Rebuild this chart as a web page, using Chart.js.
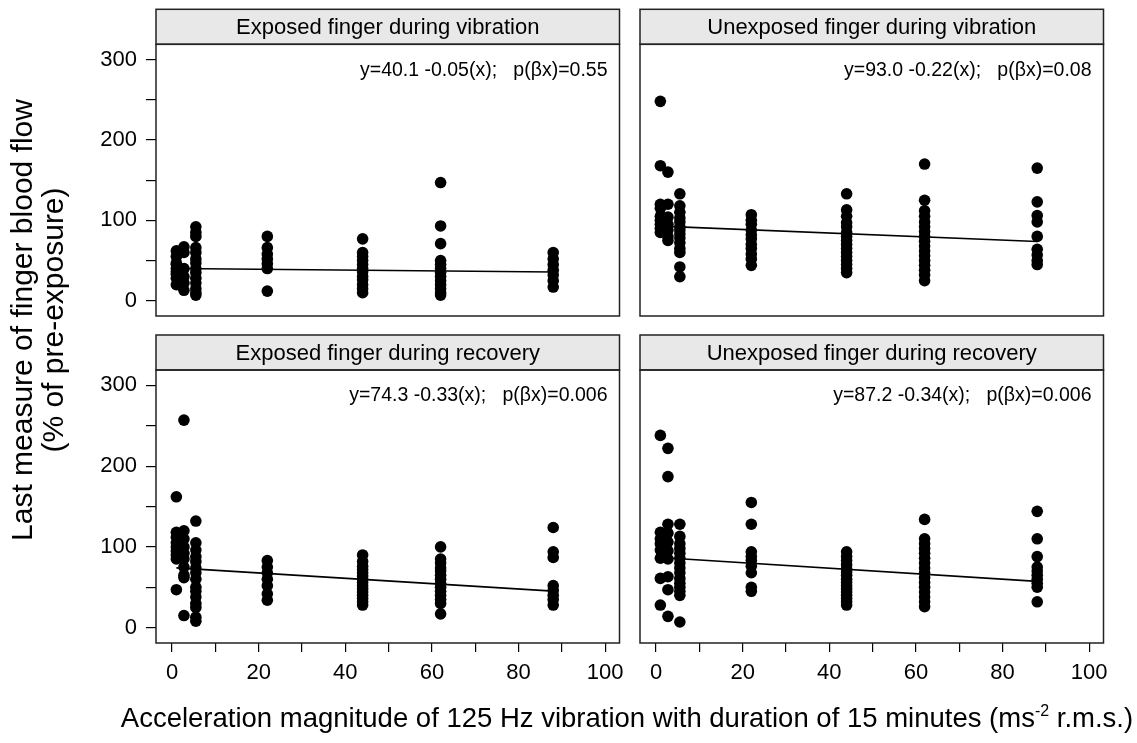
<!DOCTYPE html>
<html>
<head>
<meta charset="utf-8">
<script src="https://cdn.jsdelivr.net/npm/chart.js@4.4.0/dist/chart.umd.min.js"></script>
<style>
  html, body { margin: 0; padding: 0; background: #fff; }
  #wrap { position: relative; width: 1137px; height: 743px; overflow: hidden;
          font-family: 'Liberation Sans', Arial, sans-serif; color: #000; }
  #wrap canvas { position: absolute; left: 0; top: 0; }
  #ytitle { position: absolute; left: -213px; top: 289px; width: 500px; height: 62px;
            font-size: 30px; line-height: 31px; text-align: center; white-space: nowrap;
            transform: rotate(-90deg); }
  #xtitle { position: absolute; left: 27px; top: 700px; width: 1200px; height: 36px;
            font-size: 27.5px; line-height: 36px; text-align: center; white-space: nowrap; }
  #xtitle sup { font-size: 16px; line-height: 0; vertical-align: 11px; }
</style>
</head>
<body>
<div id="wrap">
  <canvas id="p0" width="1137" height="743"></canvas>
  <canvas id="p1" width="1137" height="743"></canvas>
  <canvas id="p2" width="1137" height="743"></canvas>
  <canvas id="p3" width="1137" height="743"></canvas>
  <div id="ytitle">Last measure of finger blood flow<br>(% of pre-exposure)</div>
  <div id="xtitle">Acceleration magnitude of 125 Hz vibration with duration of 15 minutes (ms<sup>-2</sup> r.m.s.)</div>
</div>
<script>
// Vibration magnitudes (m/s² r.m.s.) at which blood flow was measured
const xLevels = [1, 2.75, 5.5, 22, 44, 62, 88];

// Blood flow (% of pre-exposure), one list per magnitude level
const exposedVibration = [
  [62, 55, 47, 40, 33, 28, 20, 45, 36],
  [67, 60, 40, 30, 22, 13],
  [92, 85, 80, 66, 60, 52, 47, 40, 35, 28, 22, 15, 10, 7],
  [80, 66, 58, 52, 46, 40, 12],
  [77, 60, 55, 50, 45, 40, 36, 30, 26, 20, 15, 10],
  [147, 93, 71, 50, 45, 40, 35, 30, 25, 20, 15, 10, 7],
  [60, 52, 45, 38, 32, 25, 17]
];
const unexposedVibration = [
  [248, 168, 120, 115, 105, 100, 95, 90, 85],
  [160, 120, 104, 95, 88, 80, 75],
  [133, 118, 110, 103, 98, 92, 88, 83, 78, 72, 65, 60, 42, 30],
  [107, 100, 95, 88, 82, 77, 70, 65, 58, 52, 44],
  [133, 113, 105, 97, 92, 85, 80, 75, 70, 65, 60, 55, 50, 45, 40, 35],
  [170, 125, 112, 105, 98, 92, 86, 80, 74, 68, 62, 56, 50, 44, 38, 32, 25],
  [165, 123, 106, 98, 80, 64, 57, 50, 45]
];
const exposedRecovery = [
  [162, 118, 112, 105, 100, 95, 90, 85, 47],
  [257, 120, 110, 100, 92, 85, 75, 65, 62, 15],
  [132, 105, 96, 88, 82, 74, 68, 60, 50, 45, 38, 30, 25, 13, 8],
  [83, 75, 68, 60, 52, 42, 34],
  [90, 82, 76, 72, 68, 64, 60, 56, 52, 48, 44, 40, 36, 32, 28],
  [100, 85, 80, 74, 70, 65, 60, 55, 50, 45, 40, 35, 30, 17],
  [124, 94, 87, 52, 46, 40, 35, 28]
];
const unexposedRecovery = [
  [238, 118, 110, 104, 96, 86, 61, 28],
  [222, 187, 128, 117, 106, 95, 85, 63, 47, 14],
  [128, 113, 104, 98, 92, 86, 80, 74, 68, 61, 55, 50, 45, 40, 7],
  [155, 128, 94, 88, 83, 76, 68, 50, 45],
  [94, 88, 83, 78, 73, 69, 65, 60, 56, 52, 48, 44, 40, 36, 32, 28],
  [134, 110, 104, 98, 92, 86, 80, 74, 68, 62, 56, 50, 44, 38, 32, 26],
  [144, 110, 88, 75, 70, 65, 60, 55, 50, 32]
];

// Panel titles and fitted regressions (intercept, slope, p of slope)
const panelTitles = [
  'Exposed finger during vibration', 'Unexposed finger during vibration',
  'Exposed finger during recovery', 'Unexposed finger during recovery'
];
const intercepts = [40.1, 93.0, 74.3, 87.2];
const slopes = [-0.05, -0.22, -0.33, -0.34];
const pValues = ['0.55', '0.08', '0.006', '0.006'];

// Axis ticks
const yTickValues = [0, 50, 100, 150, 200, 250, 300];
const yLabelValues = [0, 100, 200, 300];
const xTickValues = [0, 10, 20, 30, 40, 50, 60, 70, 80, 90, 100];
const xLabelValues = [0, 20, 40, 60, 80, 100];

const panelData = [exposedVibration, unexposedVibration, exposedRecovery, unexposedRecovery];

const FONT = "'Liberation Sans', Arial, sans-serif";
Chart.defaults.font.family = FONT;
Chart.defaults.color = '#000';

// Page layout of the four plotting areas
const W = 1137, H = 743;
const cols = [{ l: 156, r: 619.5 }, { l: 640, r: 1103.5 }];
const rows = [{ t: 44.3, b: 316 }, { t: 370, b: 643 }];
const Y_AXIS_W = 60, X_AXIS_H = 40, HEADER_H = 35;

const panelDecor = {
  id: 'panelDecor',
  afterDraw(chart, args, opts) {
    const { ctx, chartArea: a } = chart;
    ctx.save();
    // strip header
    ctx.fillStyle = '#e8e8e8';
    ctx.fillRect(a.left, a.top - HEADER_H, a.right - a.left, HEADER_H);
    ctx.lineWidth = 1.5;
    ctx.strokeStyle = '#222';
    ctx.strokeRect(a.left, a.top - HEADER_H, a.right - a.left, HEADER_H);
    ctx.strokeRect(a.left, a.top, a.right - a.left, a.bottom - a.top);
    ctx.fillStyle = '#000';
    ctx.font = '22px ' + FONT;
    ctx.textAlign = 'center';
    ctx.textBaseline = 'middle';
    ctx.fillText(opts.title, (a.left + a.right) / 2, a.top - HEADER_H / 2 + 1);
    // regression equation
    ctx.font = '19.5px ' + FONT;
    ctx.textAlign = 'right';
    ctx.fillText(opts.equation, a.right - 12, a.top + 26);
    ctx.restore();
  }
};

panelData.forEach((groups, i) => {
  const col = cols[i % 2], row = rows[Math.floor(i / 2)];
  const showY = i % 2 === 0, showX = i >= 2;
  const points = [];
  groups.forEach((vals, k) => vals.forEach(v => points.push({ x: xLevels[k], y: v })));
  const a = intercepts[i], b = slopes[i];
  const xFirst = xLevels[0], xLast = xLevels[xLevels.length - 1];
  const fit = [{ x: xFirst, y: a + b * xFirst }, { x: xLast, y: a + b * xLast }];
  const equation = 'y=' + a.toFixed(1) + ' ' + b.toFixed(2) + '(x);   p(\u03B2x)=' + pValues[i];

  new Chart(document.getElementById('p' + i), {
    type: 'scatter',
    data: {
      datasets: [
        { type: 'line', data: fit, borderColor: '#000', borderWidth: 1.6,
          pointRadius: 0, fill: false, order: 0 },
        { data: points, backgroundColor: '#000', borderWidth: 0,
          pointRadius: 5.8, pointHoverRadius: 5.8, order: 1 }
      ]
    },
    options: {
      responsive: false,
      animation: false,
      devicePixelRatio: 1,
      events: [],
      layout: {
        padding: {
          left: col.l - (showY ? Y_AXIS_W : 0),
          right: W - col.r,
          top: row.t,
          bottom: H - row.b - (showX ? X_AXIS_H : 0)
        }
      },
      plugins: {
        legend: { display: false },
        tooltip: { enabled: false },
        panelDecor: { title: panelTitles[i], equation }
      },
      scales: {
        x: {
          type: 'linear', min: -3.7, max: 103.3, display: showX,
          afterBuildTicks: s => { s.ticks = xTickValues.map(v => ({ value: v })); },
          afterFit: s => { s.height = showX ? X_AXIS_H : 0; },
          border: { display: false },
          grid: { drawOnChartArea: false, drawTicks: true, tickLength: 9,
                  color: '#000', tickColor: '#000', lineWidth: 1.2 },
          ticks: { autoSkip: false, maxRotation: 0, padding: 8,
                   font: { size: 22 }, color: '#000',
                   callback: v => (xLabelValues.includes(v) ? String(v) : '') }
        },
        y: {
          type: 'linear', min: -19, max: 319, display: showY,
          afterBuildTicks: s => { s.ticks = yTickValues.map(v => ({ value: v })); },
          afterFit: s => { s.width = showY ? Y_AXIS_W : 0; },
          border: { display: false },
          grid: { drawOnChartArea: false, drawTicks: true, tickLength: 10,
                  color: '#000', tickColor: '#000', lineWidth: 1.2 },
          ticks: { autoSkip: false, padding: 9, font: { size: 22 }, color: '#000',
                   callback: v => (yLabelValues.includes(v) ? String(v) : '') }
        }
      }
    },
    plugins: [panelDecor]
  });
});
</script>
</body>
</html>
